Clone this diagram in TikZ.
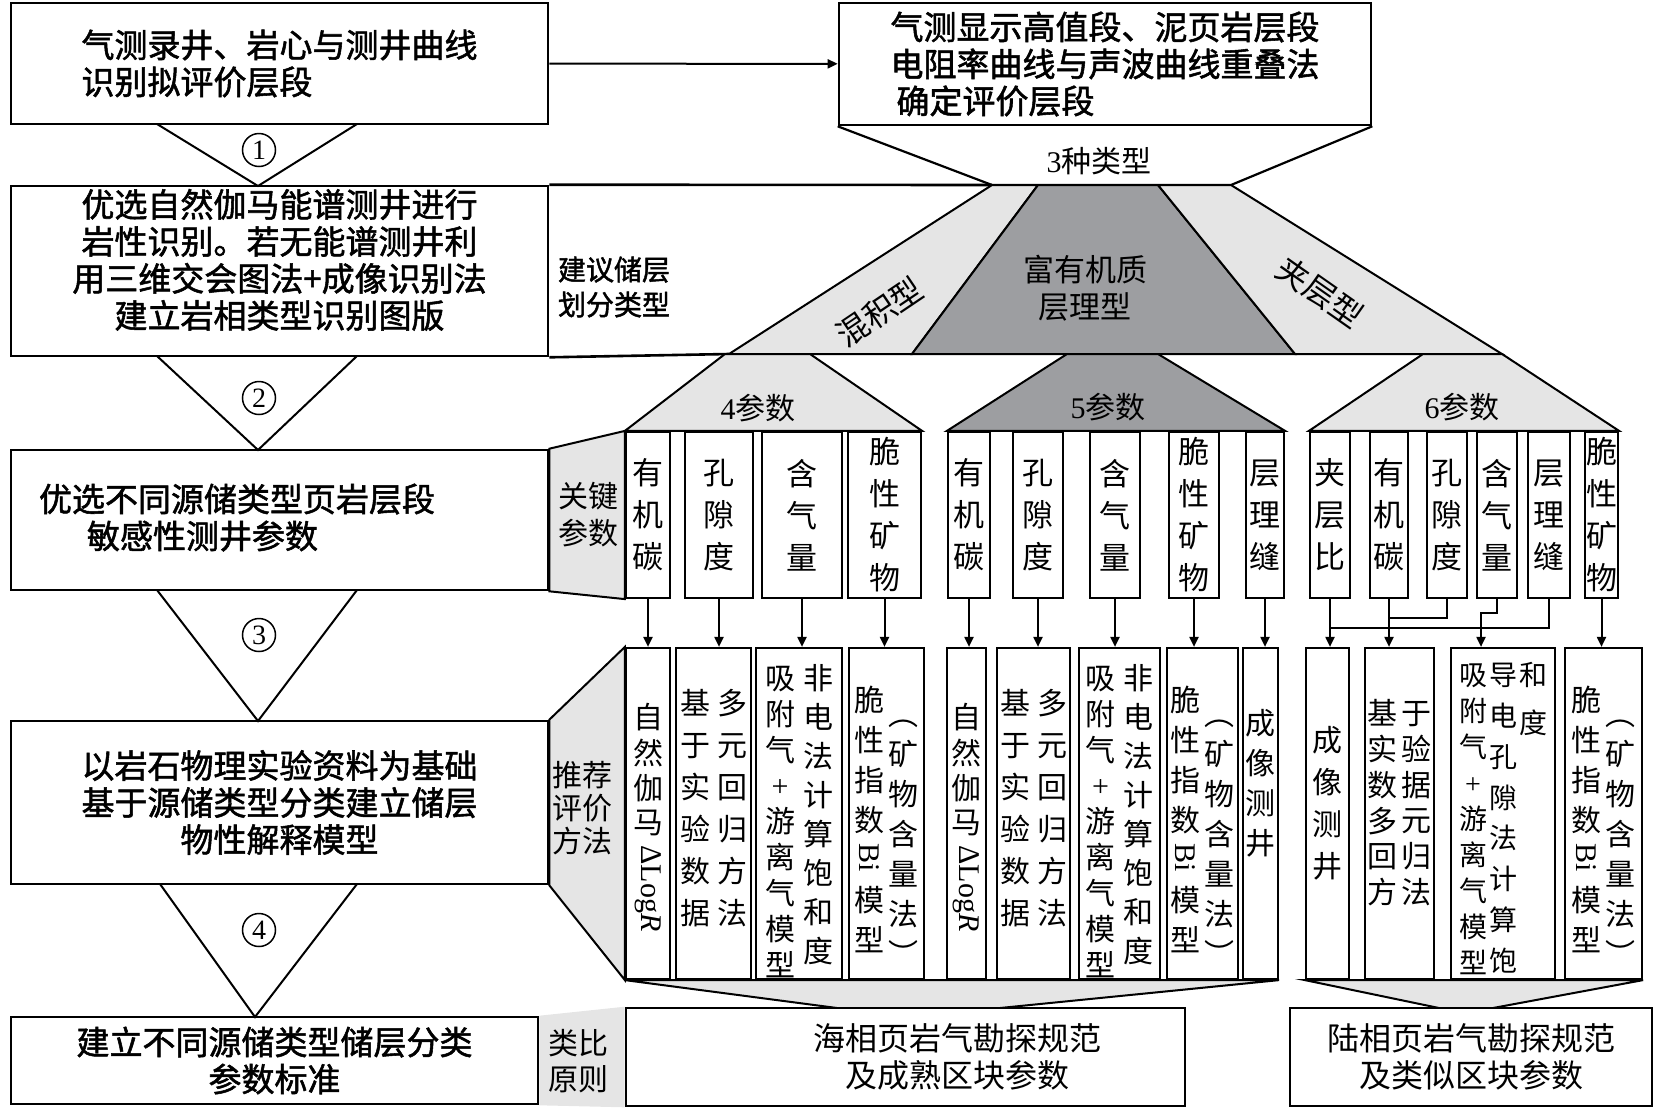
\documentclass[tikz,border=0pt]{standalone}
\usepackage{fontspec}
\setmainfont{Noto Sans CJK SC}
\newfontfamily\heavy{Noto Sans CJK SC}[FakeBold=1.6]
\newfontfamily\lat{Liberation Serif}
\usetikzlibrary{arrows.meta,backgrounds}

\definecolor{paleshade}{RGB}{229,229,229}
\definecolor{darkshade}{RGB}{157,158,161}

% one column of upright characters, #1 = row stretch
\newcommand{\vcolx}[2]{{\renewcommand{\arraystretch}{#1}\begin{tabular}[t]{@{}c@{}}#2\end{tabular}}}
\newcommand{\vcol}[1]{\vcolx{1}{#1}}
\newcommand{\sidelog}{{\lat\rotatebox{-90}{ΔLog\textit{R}}}}
\newcommand{\sidebi}{{\lat\rotatebox{-90}{Bi}}}

\tikzset{
  stage/.style={draw, line width=2.6pt, fill=white, inner sep=0pt, align=center,
    font=\heavy\fontsize{33}{37}\selectfont},
  keybox/.style={draw, line width=2.2pt, fill=white, inner sep=0pt, minimum height=166,
    align=center, font=\fontsize{31}{42}\selectfont},
  methodbox/.style={draw, line width=2.2pt, fill=white, inner sep=0pt, minimum height=331},
  methodtext/.style={anchor=north, inner sep=0pt, font=\fontsize{30}{40}\selectfont},
  tag/.style={inner sep=0pt, align=center, font=\fontsize{30}{35}\selectfont},
  palepart/.style={draw, line width=2pt, fill=paleshade},
  darkpart/.style={draw, line width=2pt, fill=darkshade},
  link/.style={line width=2pt},
  flow/.style={line width=2pt, -{Triangle[length=10pt,width=9pt]}},
  stepnum/.style={draw, circle, line width=1.5pt, minimum size=33, inner sep=0pt,
    font=\lat\fontsize{28}{28}\selectfont}
}

\begin{document}
\begin{tikzpicture}[x=1pt, y=-1pt]
\useasboundingbox (0,0) rectangle (1655,1109);
%%%%%%%%%%%%%%%%%%%%%%%%%%%%%%%%%%%%%%%%%%% HELP LINES
%\draw[help lines, step=100] (0,0) grid (1655,1109);

%%%%%%%%%%%%%%%%%%%%%%%%%%%%%%%%%%%%%%%%%%% workflow stages
\node[stage, minimum width=537, minimum height=121, align=left] (survey) at (279.5,63.5) {气测录井、岩心与测井曲线\\识别拟评价层段};
\node[stage, minimum width=537, minimum height=170] (litho) at (279.5,271) {优选自然伽马能谱测井进行\\岩性识别。若无能谱测井利\\用三维交会图法+成像识别法\\建立岩相类型识别图版\\[-12pt]\mbox{}};
\node[stage, minimum height=140, text width=537, align=left] (sensitive) at (279.5,520) {\mbox{}\\[-14pt]\hspace*{28pt}优选不同源储类型页岩层段\\\hspace*{76pt}敏感性测井参数};
\node[stage, minimum width=537, minimum height=163] (model) at (279.5,802.5) {以岩石物理实验资料为基础\\基于源储类型分类建立储层\\物性解释模型};
\node[stage, minimum width=527, minimum height=87] (standard) at (274.5,1060.5) {建立不同源储类型储层分类\\参数标准};
\node[stage, minimum width=532, minimum height=122, align=left] (evaluate) at (1105,64) {气测显示高值段、泥页岩层段\\电阻率曲线与声波曲线重叠法\\\hspace*{6pt}确定评价层段};
\node[stage, font=\fontsize{32}{37}\selectfont, minimum width=559, minimum height=98] (marine) at (905.5,1057) {\hspace*{103pt}海相页岩气勘探规范\\\hspace*{103pt}及成熟区块参数};
\node[stage, font=\fontsize{32}{37}\selectfont, minimum width=362, minimum height=98] (terrestrial) at (1471,1057) {陆相页岩气勘探规范\\及类似区块参数};

%%%%% step triangles
\draw[link] (157,124) -- (258,186) -- (357,124);
\draw[link] (157,356) -- (258,450) -- (357,356);
\draw[link] (157,590) -- (258,721) -- (357,590);
\draw[link] (160,884) -- (255,1017) -- (357,884);
\node[stepnum] (step1) at (259,150) {1};
\node[stepnum] (step2) at (259,398) {2};
\node[stepnum] (step3) at (259,635) {3};
\node[stepnum] (step4) at (259,930) {4};

%%%%% key parameters
\node[keybox, minimum width=44] (k4a) at (648,515) {有\\机\\碳};
\node[keybox, minimum width=68] (k4b) at (719,515) {孔\\隙\\度};
\node[keybox, minimum width=80] (k4c) at (802,515) {含\\气\\量};
\node[keybox, minimum width=73] (k4d) at (884.5,515) {脆\\性\\矿\\物};
\node[keybox, minimum width=42] (k5a) at (969,515) {有\\机\\碳};
\node[keybox, minimum width=50] (k5b) at (1038,515) {孔\\隙\\度};
\node[keybox, minimum width=50] (k5c) at (1115,515) {含\\气\\量};
\node[keybox, minimum width=50] (k5d) at (1194,515) {脆\\性\\矿\\物};
\node[keybox, minimum width=38] (k5e) at (1265,515) {层\\理\\缝};
\node[keybox, minimum width=40] (k6a) at (1330,515) {夹\\层\\比};
\node[keybox, minimum width=38] (k6b) at (1389,515) {有\\机\\碳};
\node[keybox, minimum width=40] (k6c) at (1447,515) {孔\\隙\\度};
\node[keybox, minimum width=40] (k6d) at (1497,515) {含\\气\\量};
\node[keybox, minimum width=42] (k6e) at (1549,515) {层\\理\\缝};
\node[keybox, minimum width=33] (k6f) at (1601.5,515) {脆\\性\\矿\\物};

%%%%% recommended methods
\node[methodbox, minimum width=44] (m4a) at (648,813.5) {};
\node[methodbox, minimum width=75] (m4b) at (713.5,813.5) {};
\node[methodbox, minimum width=86] (m4c) at (799,813.5) {};
\node[methodbox, minimum width=75] (m4d) at (886.5,813.5) {};
\node[methodbox, minimum width=39] (m5a) at (966.5,813.5) {};
\node[methodbox, minimum width=73] (m5b) at (1033.5,813.5) {};
\node[methodbox, minimum width=81] (m5c) at (1119.5,813.5) {};
\node[methodbox, minimum width=71] (m5d) at (1202.5,813.5) {};
\node[methodbox, minimum width=35] (m5e) at (1260.5,813.5) {};
\node[methodbox, minimum width=43] (m6a) at (1327.5,813.5) {};
\node[methodbox, minimum width=69] (m6b) at (1399.5,813.5) {};
\node[methodbox, minimum width=104] (m6c) at (1503,813.5) {};
\node[methodbox, minimum width=77] (m6d) at (1603.5,813.5) {};

\node[methodtext] (m4aT) at (648,703) {\vcolx{0.85}{自\\然\\伽\\马\\\raisebox{22pt}{\sidelog}}};
\node[methodtext] (m4bT) at (713.5,685) {\vcolx{1.05}{基\\于\\实\\验\\数\\据}\hspace{7pt}\vcolx{1.05}{多\\元\\回\\归\\方\\法}};
\node[methodtext] (m4cT) at (799,662) {\vcolx{0.89}{吸\\附\\气\\{\lat +}\\游\\离\\气\\模\\型}\hspace{8pt}\vcolx{0.975}{非\\电\\法\\计\\算\\饱\\和\\度}};
\node[methodtext] (m4dT) at (886.5,683) {\vcol{脆\\性\\指\\数\\\raisebox{28pt}{\sidebi}\\模\\型}\hspace{4pt}\raisebox{-14pt}{\vcol{︵\\矿\\物\\含\\量\\法\\︶}}};
\node[methodtext] (m5aT) at (966.5,703) {\vcolx{0.85}{自\\然\\伽\\马\\\raisebox{22pt}{\sidelog}}};
\node[methodtext] (m5bT) at (1033.5,685) {\vcolx{1.05}{基\\于\\实\\验\\数\\据}\hspace{7pt}\vcolx{1.05}{多\\元\\回\\归\\方\\法}};
\node[methodtext] (m5cT) at (1119.5,662) {\vcolx{0.89}{吸\\附\\气\\{\lat +}\\游\\离\\气\\模\\型}\hspace{8pt}\vcolx{0.975}{非\\电\\法\\计\\算\\饱\\和\\度}};
\node[methodtext] (m5dT) at (1202.5,683) {\vcol{脆\\性\\指\\数\\\raisebox{28pt}{\sidebi}\\模\\型}\hspace{4pt}\raisebox{-14pt}{\vcol{︵\\矿\\物\\含\\量\\法\\︶}}};
\node[methodtext] (m5eT) at (1260.5,706) {\vcol{成\\像\\测\\井}};
\node[methodtext] (m6aT) at (1327.5,722) {\vcolx{1.05}{成\\像\\测\\井}};
\node[methodtext] (m6bT) at (1399.5,699) {\vcolx{0.885}{基\\实\\数\\多\\回\\方}\hspace{4pt}\vcolx{0.885}{于\\验\\据\\元\\归\\法}};
\node[methodtext, font=\fontsize{28}{40}\selectfont] (m6cT) at (1503,657) {\vcolx{0.9}{吸\\附\\气\\{\lat +}\\游\\离\\气\\模\\型}\hspace{2pt}\vcolx{1.02}{导\\电\\孔\\隙\\法\\计\\算\\饱}\hspace{2pt}\vcol{和\\[8pt]度}};
\node[methodtext] (m6dT) at (1603.5,683) {\vcol{脆\\性\\指\\数\\\raisebox{28pt}{\sidebi}\\模\\型}\hspace{4pt}\raisebox{-14pt}{\vcol{︵\\矿\\物\\含\\量\\法\\︶}}};

%%%%% shaded funnels and type trapezoids
\begin{scope}[on background layer]
\draw[palepart] (sensitive.north east) -- (k4a.north west) -- (k4a.south west) -- (sensitive.south east) -- cycle;
\draw[palepart] (model.north east) -- (m4a.north west) -- (m4a.south west) -- (model.south east) -- cycle;
\fill[paleshade] (standard.north east) -- (marine.north west) -- (marine.south west) -- (standard.south east) -- cycle;
\draw[palepart] (m4a.south west) -- (m5e.south east) -- (1000,1008) -- (837,1008) -- cycle;
\draw[palepart] (m6a.south west) -- (m6d.south east) -- (1493,1008) -- (1439,1008) -- cycle;
\draw[line width=2.6pt] (litho.north east) -- (992,185);
\draw[line width=2.6pt] (litho.south east) -- (729,354);
\draw[line width=2.2pt] (evaluate.south west) -- (992,185) -- (1231,185) -- (evaluate.south east);
\draw[palepart] (992,185) -- (1038,185) -- (912,354) -- (729,354) -- cycle;
\draw[darkpart] (1038,185) -- (1158,185) -- (1295,354) -- (912,354) -- cycle;
\draw[palepart] (1158,185) -- (1231,185) -- (1502,354) -- (1295,354) -- cycle;
\draw[palepart] (725,354) -- (810,354) -- (k4d.north east) -- (k4a.north west) -- cycle;
\draw[darkpart] (1067,354) -- (1158,354) -- (k5e.north east) -- (k5a.north west) -- cycle;
\draw[palepart] (1423,354) -- (1502,354) -- (k6f.north east) -- (k6a.north west) -- cycle;
\end{scope}

%%%%% labels
\node[tag] (typeslabel) at (1099,161) {{\lat 3}种类型};
\node[tag, font=\heavy\fontsize{28}{35}\selectfont] (layerlabel) at (614,287) {建议储层\\划分类型};
\node[tag, font=\fontsize{31}{37}\selectfont] (richlabel) at (1085,288) {富有机质\\层理型};
\node[tag, rotate=34, font=\fontsize{32}{32}\selectfont] (mixlabel) at (880,312) {混积型};
\node[tag, rotate=-35, font=\fontsize{32}{32}\selectfont] (interlabel) at (1320,292) {夹层型};
\node[tag] (p4label) at (758,408) {{\lat 4}参数};
\node[tag] (p5label) at (1108,407) {{\lat 5}参数};
\node[tag] (p6label) at (1462,407) {{\lat 6}参数};
\node[tag, font=\fontsize{30}{37}\selectfont] (keylabel) at (588,515) {关键\\参数};
\node[tag, font=\fontsize{30}{33}\selectfont] (methlabel) at (582,808) {推荐\\评价\\方法};
\node[tag, font=\fontsize{30}{36}\selectfont] (analoglabel) at (578,1061) {类比\\原则};

%%%%% edges
\draw[flow] (survey) -- (evaluate);
\draw[flow] (k4a.south) -- (k4a.south |- m4a.north);
\draw[flow] (k4b.south) -- (k4b.south |- m4b.north);
\draw[flow] (k4c.south) -- (k4c.south |- m4c.north);
\draw[flow] (k4d.south) -- (k4d.south |- m4d.north);
\draw[flow] (k5a.south) -- (k5a.south |- m5a.north);
\draw[flow] (k5b.south) -- (k5b.south |- m5b.north);
\draw[flow] (k5c.south) -- (k5c.south |- m5c.north);
\draw[flow] (k5d.south) -- (k5d.south |- m5d.north);
\draw[flow] (k5e.south) -- (k5e.south |- m5e.north);
\draw[flow] (k6a.south) -- (k6a.south |- m6a.north);
\draw[flow] (k6b.south) -- (k6b.south |- m6b.north);
\draw[link] (k6c.south) |- ([yshift=-19pt]k6b.south);
\draw[flow] (k6d.south) -- ++(0,14) -| ([xshift=-22pt]m6c.north);
\draw[link] (k6e.south) |- ([yshift=-29pt]k6a.south);
\draw[flow] (k6f.south) -- (k6f.south |- m6d.north);
\end{tikzpicture}
\end{document}
